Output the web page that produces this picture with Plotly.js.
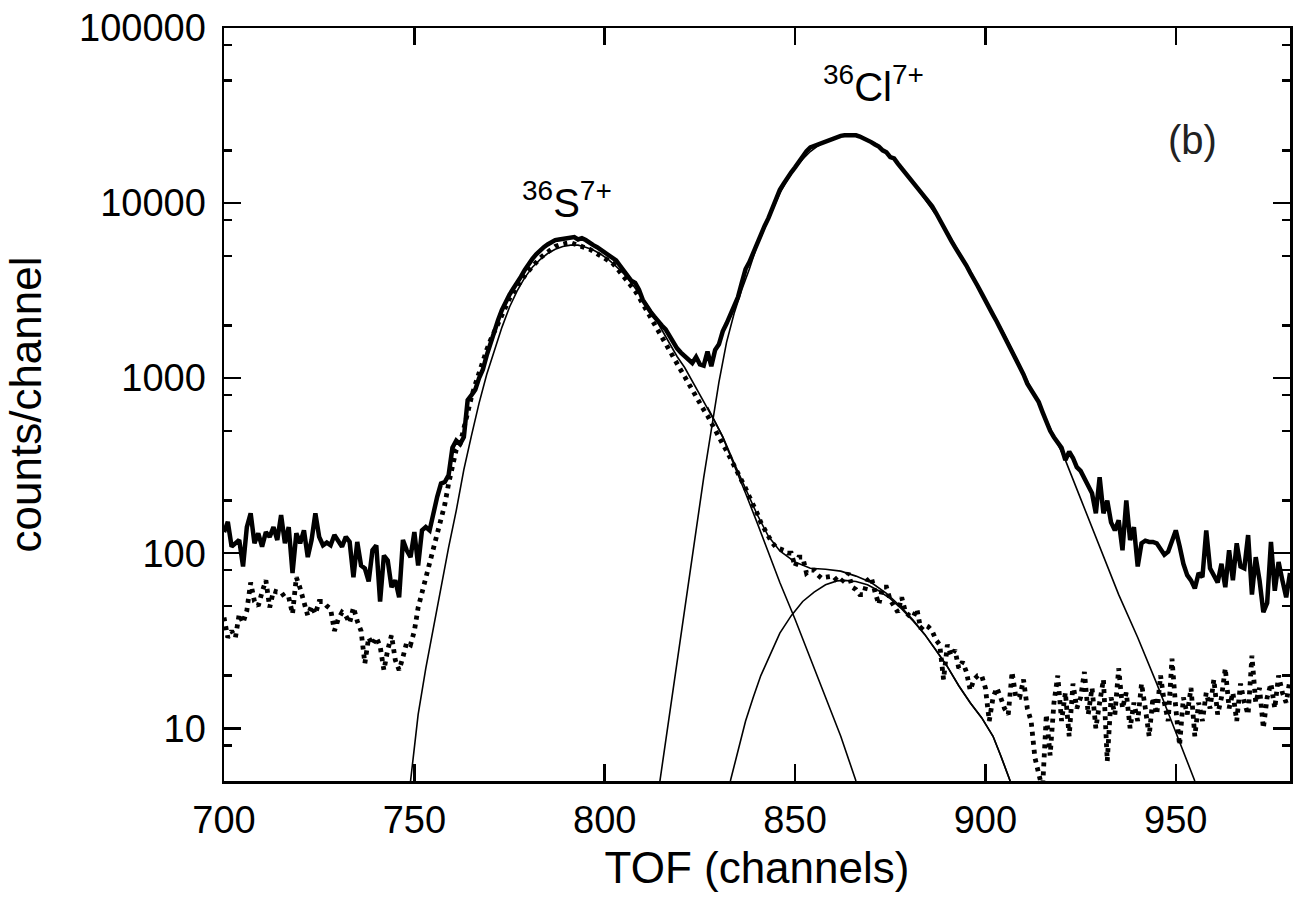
<!DOCTYPE html>
<html>
<head>
<meta charset="utf-8">
<script src="https://cdn.plot.ly/plotly-3.0.1.min.js"></script>
<style>
html,body{margin:0;padding:0;background:#fff;}
#chart{width:1300px;height:905px;}
</style>
</head>
<body>
<div id="chart"></div>
<script>
// ---- data ----
const channelStart = 700;
const totalCounts = [
132,151,109,115,119,84,141,169,114,130,
109,132,124,141,119,165,114,141,77,130,
114,135,95,119,169,124,111,115,111,127,
119,109,124,116,73,116,85,82,69,104,
111,53,97,91,64,70,56,119,104,95,
132,85,135,141,135,175,210,250,255,280,
400,440,420,460,750,800,860,1000,1120,1350,
1600,1830,2150,2450,2750,3000,3250,3480,3800,4150,
4500,4800,5100,5370,5600,5800,6000,6150,6200,6250,
6300,6350,6400,6200,6300,6150,5900,5750,5600,5400,
5200,5000,4850,4700,4400,4100,3800,3600,3500,3200,
2800,2560,2400,2250,2100,2000,1900,1750,1600,1480,
1400,1340,1280,1220,1320,1200,1180,1420,1170,1450,
1560,1850,2050,2300,2650,2900,3500,4200,4600,5200,
5900,6600,7400,8200,9300,10600,11900,12900,14000,15000,
16000,17200,18500,19800,20800,21200,21600,22100,22600,23100,
23500,23900,24200,24400,24500,24300,24400,24000,23500,23100,
22300,21600,21000,20000,19500,18300,18000,16800,15800,14900,
14000,13300,12500,11700,10900,10200,9600,8800,8000,7200,
6600,6100,5600,5200,4800,4400,4000,3700,3350,3050,
2750,2500,2300,2100,1900,1740,1580,1430,1300,1180,
1050,930,860,790,730,640,560,500,460,430,
400,340,380,350,310,295,270,240,220,169,
272,169,200,150,135,154,104,200,119,141,
84,114,118,116,116,114,105,98,102,120,
135,110,87,75,70,63,77,73,135,82,
75,68,87,64,104,70,114,84,82,127,
58,95,70,46,52,116,61,89,70,56,
77];
const gatedCounts = [
43,33,36,33,45,40,47,68,53,50,
60,70,49,61,60,60,56,56,45,73,
63,51,44,50,45,53,53,50,48,36,
42,46,44,40,49,41,36,23.5,33,30,
33,29.5,21.5,28,34,24.5,21.5,25.5,31,30,
36,49,60,70,87,104,130,160,190,250,
310,390,420,520,640,780,920,1080,1250,1450,
1650,1850,2100,2350,2600,2850,3100,3350,3600,3850,
4100,4350,4600,4850,5050,5250,5450,5650,5750,5850,
5900,5950,5850,5800,5700,5600,5450,5300,5150,5000,
4850,4700,4550,4300,4050,3800,3550,3350,3150,2900,
2650,2450,2250,2050,1890,1700,1550,1420,1300,1210,
1110,1020,930,860,790,720,660,610,560,510,
460,420,385,350,320,290,260,235,210,190,
170,150,135,125,115,108,106,104,100,100,
84,95,95,77,80,80,75,72,73,74,
74,70,68,72,77,64,62,58,58,70,
73,60,51,64,64,54,50,46,56,46,
44,43,48,37,39,38,36,32,30,19,
30,26,28,22,24,21,16.5,19,20,20,
17,11,15,17,15,13,12,21,15,15,
19,13,11,6.8,5.5,4.5,12,7,14,20,
11,16,9,18,13,15,21,12,17,10,
14,19,6.5,15,12,22,13,16,10,14,
11,18,13,9,15,12,20,14,11,25,
13,8,15,12,17,9,14,11,16,13,
19,12,15,22,13,16,11,18,14,12,
26,14,17,10,15,18,13,20,16,14,
19];

// fitted components
const sFitX = [749,751,753,755,757,759,761,763,765,767,769,771,773,775,777,779,781,783,785,787,789,791,793,795,797,799,801,803,805,807,809,811,813,815,817,819,821,823,825,827,829,831,834,837,840,843,846,850,854,858,862,866];
const sFitY = [5,12,22,38,65,108,175,300,470,720,1050,1450,1950,2550,3150,3750,4300,4750,5150,5450,5650,5750,5750,5600,5400,5100,4750,4350,3950,3500,3050,2650,2250,1900,1600,1330,1150,960,800,680,560,460,320,220,150,100,68,42,25,15,9,5];

const clFitX = [814.5,816,818,820,822,824,826,828,830,832,834,836,838,840,842,844,846,848,850,852,854,856,858,860,862,864,866,868,870,872,874,876,878,880,882,884,886,888,890,893,896,899,902,905,908,911,914,917,921,925,930,935,940,945,950,955];
const clFitY = [5,8.5,17,34,67,135,270,520,950,1600,2350,3200,4200,5700,7200,9100,11400,13600,15800,17800,19700,21200,22500,23500,24100,24300,24100,23500,22500,21100,19500,17700,15900,14000,12200,10600,9300,8000,6800,5300,4100,3100,2350,1780,1320,960,710,520,340,205,108,58,33,18,9.5,5];

const smallFitX = [833,835,837,839,841,843,846,849,852,855,858,861,863,866,869,872,875,878,881,884,887,890,893,896,899,902,904,906.5];
const smallFitY = [5,7.5,11,15,20,25,35,44,53,60,66,69.5,70,69,66,61,55,48,41,34.5,28,22.5,17.5,14,11.5,9,7,5];

const sumFitX = [827,829,831,834,837,840,843,846,850,854,858,862,866,870,874,878,881,884,887,890,893,896,899,902,904,906.5];
const sumFitY = [683,563,464,327,231,167,125,103,89,82,81,79,74,68,59,49,41.5,34.5,28,22.5,17.5,14,11.5,9,7,5];

const xTickVals = [700,750,800,850,900,950];
const yTickVals = [10,100,1000,10000,100000];
const yTickText = ["10","100","1000","10000","100000"];
const yMinorVals = [8,20,50,80,200,500,800,2000,5000,8000,20000,50000,80000];

// ---- build ----
const channels = totalCounts.map((_, i) => channelStart + i);
const gatedChannels = gatedCounts.map((_, i) => channelStart + i);

const thin = {color:'#000', width:1.6};
const traces = [
  {x: sFitX, y: sFitY, mode:'lines', line: thin, hoverinfo:'skip'},
  {x: clFitX, y: clFitY, mode:'lines', line: thin, hoverinfo:'skip'},
  {x: smallFitX, y: smallFitY, mode:'lines', line: thin, hoverinfo:'skip'},
  {x: sumFitX, y: sumFitY, mode:'lines', line: thin, hoverinfo:'skip'},
  {x: gatedChannels, y: gatedCounts, mode:'lines', line:{color:'#000', width:4.8, dash:'4px,5px'}},
  {x: channels, y: totalCounts, mode:'lines', line:{color:'#000', width:4.5}}
];

const fontFam = '"Liberation Sans", Arial, Helvetica, sans-serif';
const layout = {
  width:1300, height:905,
  margin:{l:224, r:10, t:28, b:124},
  paper_bgcolor:'#fff', plot_bgcolor:'#fff',
  showlegend:false,
  font:{family:fontFam, color:'#000', size:38},
  xaxis:{
    range:[700,980], tickmode:'array', tickvals:xTickVals,
    ticks:'inside', ticklen:17, tickwidth:2.5, tickcolor:'#000',
    showline:true, linewidth:2.5, linecolor:'#000', mirror:'ticks',
    showgrid:false, zeroline:false, ticklabelstandoff:4,
    tickfont:{size:38, family:fontFam},
    title:{text:'TOF (channels)', font:{size:44, family:fontFam}, standoff:12}
  },
  yaxis:{
    type:'log', range:[Math.log10(5), 5], tickmode:'array',
    tickvals:yTickVals, ticktext:yTickText,
    ticks:'inside', ticklen:17, tickwidth:2.5, tickcolor:'#000',
    minor:{tickmode:'array', tickvals:yMinorVals, ticks:'inside', ticklen:8, tickwidth:2.5, tickcolor:'#000', showgrid:false},
    showline:true, linewidth:2.5, linecolor:'#000', mirror:'ticks',
    showgrid:false, zeroline:false, ticklabelstandoff:8,
    tickfont:{size:38, family:fontFam},
    title:{text:'counts/channel', font:{size:44, family:fontFam}, standoff:24}
  },
  annotations:[
    {x:790, y:4.02, xref:'x', yref:'y', text:'<sup>36</sup>S<sup>7+</sup>', showarrow:false, font:{size:40, family:fontFam}},
    {x:870.5, y:4.68, xref:'x', yref:'y', text:'<sup>36</sup>Cl<sup>7+</sup>', showarrow:false, font:{size:40, family:fontFam}},
    {x:954.3, y:4.36, xref:'x', yref:'y', text:'(b)', showarrow:false, font:{size:40, family:fontFam, color:'#222'}}
  ]
};

Plotly.newPlot('chart', traces, layout, {staticPlot:true, displayModeBar:false});
</script>
</body>
</html>
